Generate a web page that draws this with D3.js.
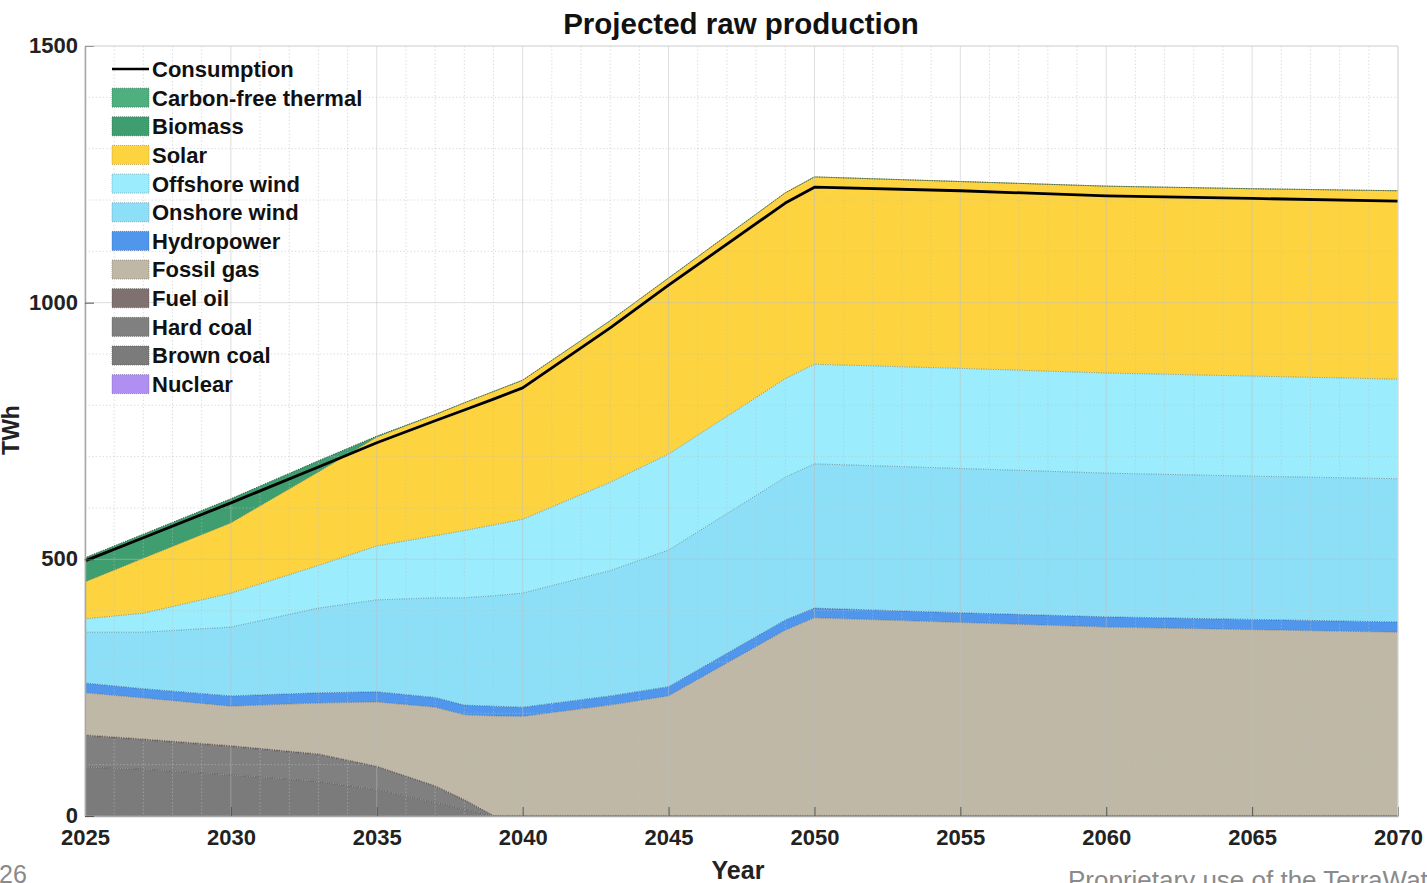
<!DOCTYPE html>
<html><head><meta charset="utf-8">
<script src="https://cdn.jsdelivr.net/npm/d3@7"></script>
<style>
body{margin:0;background:#fff;overflow:hidden}
svg{display:block}
text{font-family:"Liberation Sans",Arial,Helvetica,sans-serif}
</style>
</head><body>
<svg id="chart" width="1427" height="883"></svg>
<script>
// ---------------- data (TWh) ----------------
const years       = [2025, 2027, 2030, 2033, 2035, 2037, 2038, 2039, 2040, 2043, 2045, 2049, 2050, 2055, 2060, 2065, 2070];
const nuclear     = [0,    0,    0,    0,    0,    0,    0,    0,    0,    0,    0,    0,    0,    0,    0,    0,    0];
const brownCoal   = [95,   91,   80,   67,   51,   26,   13,   0,    0,    0,    0,    0,    0,    0,    0,    0,    0];
const hardCoal    = [61,   57,   55,   52,   44,   31,   17,   0,    0,    0,    0,    0,    0,    0,    0,    0,    0];
const fuelOil     = [2,    2,    2,    2,    2,    2,    2,    1,    1,    1,    1,    1,    1,    1,    1,    1,    1];
const fossilGas   = [82,   80,   77,   99,   125,  153,  165,  194,  193,  215,  233,  361,  385,  376,  367,  362,  357];
const hydropower  = [19,   18,   20,   20,   20,   19,   19,   19,   18,   18,   18,   20,   19,   19,   20,   20,   20];
const onshoreWind = [99,   110,  134,  165,  179,  194,  209,  215,  222,  244,  266,  278,  281,  281,  280,  279,  279];
const offshoreWind= [26,   37,   66,   83,   105,  121,  131,  138,  144,  172,  187,  192,  194,  195,  195,  195,  194];
const solar       = [72,   107,  137,  182,  212,  236,  249,  260,  271,  315,  343,  362,  365,  364,  364,  365,  367];
const biomass     = [47,   47,   47,   22,   2,    0,    0,    0,    0,    0,    0,    0,    0,    0,    0,    0,    0];
const carbonFree  = [0,    0,    0,    0,    0,    0,    0,    0,    0,    0,    0,    0,    0,    0,    0,    0,    0];
const consumption = [497,  542,  610,  680,  727,  770,  791,  812,  834,  951,  1034, 1194, 1225, 1218, 1208, 1203, 1198];

const seriesNames = ["Nuclear","Brown coal","Hard coal","Fuel oil","Fossil gas","Hydropower","Onshore wind","Offshore wind","Solar","Biomass","Carbon-free thermal"];
const seriesValues = [nuclear, brownCoal, hardCoal, fuelOil, fossilGas, hydropower, onshoreWind, offshoreWind, solar, biomass, carbonFree];
const seriesColors = ["#b08ff2","#7b7b7b","#808080","#7e716f","#bfb8a7","#4f96ec","#8ddff8","#9becfd","#fdd43f","#3f9e6f","#4eb07f"];

const xTicks = [2025,2030,2035,2040,2045,2050,2055,2060,2065,2070];
const yTicks = [0,500,1000,1500];
const titleText = "Projected raw production";
const xLabel = "Year";
const yLabel = "TWh";

// ---------------- layout ----------------
const svg = d3.select("#chart");
const L = 85, R = 1398, T = 46, B = 816;
const x = d3.scaleLinear().domain([2025,2070]).range([L,R]);
const y = d3.scaleLinear().domain([0,1500]).range([B,T]);

const table = years.map((yr,i) => {
  const row = {year: yr};
  seriesNames.forEach((n,k) => row[n] = seriesValues[k][i]);
  return row;
});
const stacked = d3.stack().keys(seriesNames)(table);

// areas
const area = d3.area().x(d => x(d.data.year)).y0(d => y(d[0])).y1(d => y(d[1]));
svg.append("g").selectAll("path").data(stacked).join("path")
  .attr("d", area).attr("fill", (d,i) => seriesColors[i]).attr("stroke","none");

// dotted edges
const edge = d3.line().x(d => x(d.data.year)).y(d => y(d[1]));
svg.append("g").selectAll("path").data(stacked).join("path")
  .attr("d", edge).attr("fill","none")
  .attr("stroke", (d,i) => d3.color(seriesColors[i]).darker(1.6))
  .attr("stroke-width", 1).attr("stroke-dasharray","1.2 1.2").attr("opacity",0.7);

// grid (drawn on top, like the reference)
const grid = svg.append("g");
const minorX = d3.range(2025, 2071, 1).filter(v => v % 5 !== 0);
const minorY = d3.range(0, 1501, 100).filter(v => v % 500 !== 0);
grid.selectAll(".mx").data(minorX).join("line")
  .attr("x1", d => x(d)).attr("x2", d => x(d)).attr("y1", T).attr("y2", B)
  .attr("stroke","#c0c0c0").attr("stroke-opacity",0.5).attr("stroke-dasharray","1.5 2");
grid.selectAll(".my").data(minorY).join("line")
  .attr("x1", L).attr("x2", R).attr("y1", d => y(d)).attr("y2", d => y(d))
  .attr("stroke","#c0c0c0").attr("stroke-opacity",0.5).attr("stroke-dasharray","1.5 2");
grid.selectAll(".Mx").data(xTicks).join("line")
  .attr("x1", d => x(d)).attr("x2", d => x(d)).attr("y1", T).attr("y2", B)
  .attr("stroke","#bdbdbd").attr("stroke-opacity",0.5);
grid.selectAll(".My").data(yTicks).join("line")
  .attr("x1", L).attr("x2", R).attr("y1", d => y(d)).attr("y2", d => y(d))
  .attr("stroke","#bdbdbd").attr("stroke-opacity",0.5);

// consumption line
svg.append("path").datum(years.map((yr,i)=>[yr, consumption[i]]))
  .attr("d", d3.line().x(d => x(d[0])).y(d => y(d[1])))
  .attr("fill","none").attr("stroke","#000").attr("stroke-width",2.8).attr("stroke-linejoin","round");

// axes
const xAxis = d3.axisBottom(x).tickValues(xTicks).tickFormat(d3.format("d")).tickSizeInner(-9).tickSizeOuter(0).tickPadding(17);
const yAxis = d3.axisLeft(y).tickValues(yTicks).tickFormat(d3.format("d")).tickSizeInner(-9).tickSizeOuter(0).tickPadding(7);
const gx = svg.append("g").attr("transform", `translate(0,${B})`).call(xAxis);
const gy = svg.append("g").attr("transform", `translate(${L},0)`).call(yAxis);
[gx, gy].forEach(g => {
  g.select(".domain").attr("stroke","#a8a8a8").attr("stroke-width",1.5);
  g.selectAll(".tick line").attr("stroke","#555").attr("stroke-width",1);
  g.selectAll(".tick text").attr("font-family",'"Liberation Sans",Arial,sans-serif')
    .attr("font-size",22).attr("font-weight","bold").attr("fill","#222");
});
gx.selectAll(".tick text").attr("dy","0.55em");
gy.selectAll(".tick text").attr("dy","0.3em");
// right/top box lines
svg.append("line").attr("x1",R).attr("x2",R).attr("y1",T).attr("y2",B).attr("stroke","#dcdcdc");
svg.append("line").attr("x1",L).attr("x2",R).attr("y1",T).attr("y2",T).attr("stroke","#dcdcdc");

// titles
svg.append("text").attr("x",741).attr("y",34).attr("text-anchor","middle")
  .attr("font-size",29.5).attr("font-weight","bold").attr("fill","#111").text(titleText);
svg.append("text").attr("x",738).attr("y",879).attr("text-anchor","middle")
  .attr("font-size",25).attr("font-weight","bold").attr("fill","#222").text(xLabel);
svg.append("text").attr("transform","translate(19,430) rotate(-90)").attr("text-anchor","middle")
  .attr("font-size",23).attr("font-weight","bold").attr("fill","#222").text(yLabel);

// legend
const legendItems = [{name:"Consumption", line:true}].concat(
  seriesNames.map((n,i)=>({name:n, color:seriesColors[i]})).reverse());
const lg = svg.append("g");
legendItems.forEach((it,i) => {
  const cy = 69 + i*28.65;
  if (it.line) {
    lg.append("line").attr("x1",112).attr("x2",149).attr("y1",cy).attr("y2",cy)
      .attr("stroke","#000").attr("stroke-width",2.6);
  } else {
    lg.append("rect").attr("x",112).attr("y",cy-9.5).attr("width",37).attr("height",19)
      .attr("fill",it.color).attr("stroke",d3.color(it.color).darker(1.5))
      .attr("stroke-width",0.8).attr("stroke-dasharray","1 1").attr("stroke-opacity",0.7);
  }
  lg.append("text").attr("x",152).attr("y",cy).attr("dy","0.36em")
    .attr("font-size",22).attr("font-weight","bold").attr("fill","#111").text(it.name);
});

// footer fragments
svg.append("text").attr("x",-1).attr("y",883).attr("font-family","Inter, 'Noto Sans', sans-serif")
  .attr("font-size",25).attr("fill","#8a8a8a").text("26");
svg.append("text").attr("x",1068).attr("y",889).attr("font-family","Inter, 'Noto Sans', sans-serif")
  .attr("font-size",26).attr("fill","#8a8a8a").text("Proprietary use of the TerraWatts");
</script>
</body></html>
